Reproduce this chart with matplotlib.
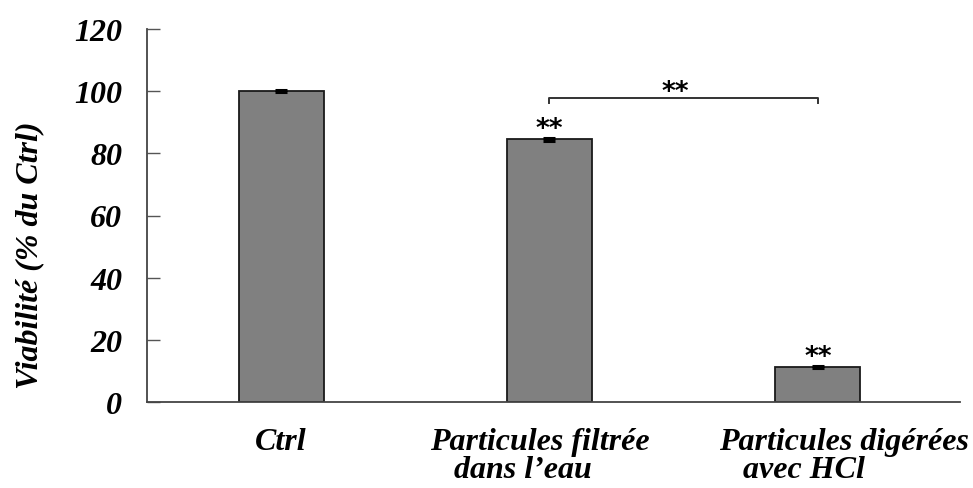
import matplotlib
matplotlib.use("Agg")
import matplotlib.pyplot as plt
from matplotlib.transforms import blended_transform_factory

categories = ["Ctrl", "Particules filtrée\n   dans l\u2019eau", "Particules digérées\n   avec HCl"]
values = [100.0, 84.5, 11.2]
errors = [0.4, 0.4, 0.4]
stars = ["", "**", "**"]
yticks = [0, 20, 40, 60, 80, 100, 120]

plt.rcParams['font.family'] = ['Liberation Serif', 'DejaVu Serif']

fig = plt.figure(figsize=(9.73, 4.89), dpi=100)
ax = fig.add_axes([147/973, 1-403/489, (960-147)/973, (403-30)/489])

x = list(range(len(categories)))
ax.bar(x, values, width=0.317, color="#808080", edgecolor="#1a1a1a", linewidth=1.3,
       yerr=errors, error_kw=dict(ecolor="black", elinewidth=1.5, capsize=4, capthick=2.2))

ax.set_xlim(-0.5, 2.53)
ax.set_ylim(0, 120)
ax.set_yticks(yticks)
ax.set_yticklabels([str(t) for t in yticks], fontsize=23, fontweight='bold', fontstyle='italic')
ax.tick_params(axis='y', direction='in', length=9, width=1, color='#555555', pad=18)
ax.set_xticks([])
for s in ['top', 'right']:
    ax.spines[s].set_visible(False)
for s in ['left', 'bottom']:
    ax.spines[s].set_color('#444444')
    ax.spines[s].set_linewidth(1.3)

# x category labels
offsets = [0.0, -0.037, 0.097]
trans = blended_transform_factory(ax.transData, ax.transAxes)
for i, (lab, off) in enumerate(zip(categories, offsets)):
    ax.text(i + off, -0.068, lab, transform=trans, ha='center', va='top',
            fontsize=23, fontweight='bold', fontstyle='italic', multialignment='left',
            linespacing=0.95)

# significance stars on bars
for i, (v, e, s) in enumerate(zip(values, errors, stars)):
    if s:
        ax.text(i, v + e + 0.6, s, ha='center', va='baseline', fontsize=19,
                fontweight='bold', family='DejaVu Sans')

# bracket between bar 2 and bar 3
yb = 97.7
ax.plot([1, 1, 2, 2], [yb - 1.6, yb, yb, yb - 1.6], color='#333333', lw=1.4)
ax.text(1.47, yb - 0.2, "**", ha='center', va='baseline', fontsize=19,
        fontweight='bold', family='DejaVu Sans')

fig.text(30/973, 1-255/489, "Viabilité (% du Ctrl)", rotation=90, ha='center', va='center',
         fontsize=23, fontweight='bold', fontstyle='italic')

fig.savefig("out.png", dpi=100)
